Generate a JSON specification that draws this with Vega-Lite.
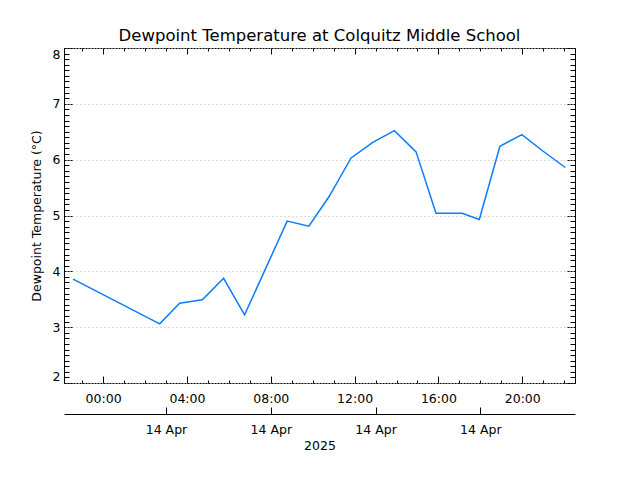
{
  "$schema": "https://vega.github.io/schema/vega-lite/v6.json",
  "width": 511,
  "height": 335,
  "autosize": {"type": "none"},
  "padding": {"left": 64, "top": 48, "right": 65, "bottom": 97},
  "background": "white",
  "title": {"text": "Dewpoint Temperature at Colquitz Middle School", "font": "DejaVu Sans", "fontSize": 16.5, "fontWeight": "normal", "color": "black", "anchor": "middle", "offset": 3},
  "config": {
    "view": {"stroke": null},
    "axis": {"labelFont": "DejaVu Sans", "titleFont": "DejaVu Sans", "labelFontSize": 12.5, "titleFontSize": 12.5, "labelColor": "black", "titleColor": "black", "domainColor": "black", "tickColor": "black", "titleFontWeight": "normal", "domainWidth": 1, "tickWidth": 1, "grid": false, "labelOverlap": false}
  },
  "data": {"values": [
    {"time": "2025-04-13T22:34:00Z", "dewpoint": 3.86},
    {"time": "2025-04-14T02:42:00Z", "dewpoint": 3.06},
    {"time": "2025-04-14T03:39:00Z", "dewpoint": 3.43},
    {"time": "2025-04-14T04:44:00Z", "dewpoint": 3.49},
    {"time": "2025-04-14T05:45:00Z", "dewpoint": 3.875},
    {"time": "2025-04-14T06:45:00Z", "dewpoint": 3.22},
    {"time": "2025-04-14T08:47:00Z", "dewpoint": 4.90},
    {"time": "2025-04-14T09:49:00Z", "dewpoint": 4.81},
    {"time": "2025-04-14T10:47:00Z", "dewpoint": 5.34},
    {"time": "2025-04-14T11:50:00Z", "dewpoint": 6.03},
    {"time": "2025-04-14T12:52:00Z", "dewpoint": 6.31},
    {"time": "2025-04-14T13:54:00Z", "dewpoint": 6.52},
    {"time": "2025-04-14T14:56:00Z", "dewpoint": 6.14},
    {"time": "2025-04-14T15:53:00Z", "dewpoint": 5.04},
    {"time": "2025-04-14T17:08:00Z", "dewpoint": 5.04},
    {"time": "2025-04-14T17:57:00Z", "dewpoint": 4.93},
    {"time": "2025-04-14T18:56:00Z", "dewpoint": 6.24},
    {"time": "2025-04-14T19:59:00Z", "dewpoint": 6.45},
    {"time": "2025-04-14T20:58:00Z", "dewpoint": 6.16},
    {"time": "2025-04-14T22:03:00Z", "dewpoint": 5.86}
  ]},
  "layer": [
    {
      "mark": {"type": "line", "color": "#0a7cff", "strokeWidth": 1.5},
      "encoding": {
        "x": {"field": "time", "type": "temporal",
          "scale": {"type": "utc", "domain": [{"year": 2025, "month": 4, "date": 13, "hours": 22, "minutes": 8, "utc": true}, {"year": 2025, "month": 4, "date": 14, "hours": 22, "minutes": 31, "utc": true}]},
          "axis": {"orient": "bottom", "title": null, "format": "%H:%M", "tickSize": -7, "labelPadding": 16, "domainDash": [2, 1],
            "values": [
              {"year": 2025, "month": 4, "date": 14, "hours": 0, "utc": true},
              {"year": 2025, "month": 4, "date": 14, "hours": 4, "utc": true},
              {"year": 2025, "month": 4, "date": 14, "hours": 8, "utc": true},
              {"year": 2025, "month": 4, "date": 14, "hours": 12, "utc": true},
              {"year": 2025, "month": 4, "date": 14, "hours": 16, "utc": true},
              {"year": 2025, "month": 4, "date": 14, "hours": 20, "utc": true}
            ]}},
        "y": {"field": "dewpoint", "type": "quantitative",
          "scale": {"domain": [2, 8], "nice": false, "zero": false},
          "axis": {"orient": "left", "title": "Dewpoint Temperature (°C)", "titlePadding": 9, "values": [2, 3, 4, 5, 6, 7, 8], "tickSize": -9, "tickDash": [2, 1], "labelPadding": 13, "labelFlush": true, "labelFlushOffset": 0, "grid": true, "gridDash": [1, 3], "gridColor": "#b4b4b4", "gridWidth": 1}}
      }
    },
    {
      "mark": {"type": "line", "opacity": 0},
      "encoding": {
        "x": {"field": "time", "type": "temporal",
          "axis": {"orient": "bottom", "title": null, "labels": false, "domain": false, "tickSize": -3,
            "values": [
              {"year": 2025, "month": 4, "date": 13, "hours": 23, "utc": true},
              {"year": 2025, "month": 4, "date": 14, "hours": 1, "utc": true},
              {"year": 2025, "month": 4, "date": 14, "hours": 2, "utc": true},
              {"year": 2025, "month": 4, "date": 14, "hours": 3, "utc": true},
              {"year": 2025, "month": 4, "date": 14, "hours": 5, "utc": true},
              {"year": 2025, "month": 4, "date": 14, "hours": 6, "utc": true},
              {"year": 2025, "month": 4, "date": 14, "hours": 7, "utc": true},
              {"year": 2025, "month": 4, "date": 14, "hours": 9, "utc": true},
              {"year": 2025, "month": 4, "date": 14, "hours": 10, "utc": true},
              {"year": 2025, "month": 4, "date": 14, "hours": 11, "utc": true},
              {"year": 2025, "month": 4, "date": 14, "hours": 13, "utc": true},
              {"year": 2025, "month": 4, "date": 14, "hours": 14, "utc": true},
              {"year": 2025, "month": 4, "date": 14, "hours": 15, "utc": true},
              {"year": 2025, "month": 4, "date": 14, "hours": 17, "utc": true},
              {"year": 2025, "month": 4, "date": 14, "hours": 18, "utc": true},
              {"year": 2025, "month": 4, "date": 14, "hours": 19, "utc": true},
              {"year": 2025, "month": 4, "date": 14, "hours": 21, "utc": true},
              {"year": 2025, "month": 4, "date": 14, "hours": 22, "utc": true}
            ]}},
        "y": {"field": "dewpoint", "type": "quantitative",
          "axis": {"orient": "left", "title": null, "labels": false, "domain": false, "tickSize": -5,
            "values": [2.1, 2.2, 2.3, 2.4, 2.5, 2.6, 2.7, 2.8, 2.9, 3.1, 3.2, 3.3, 3.4, 3.5, 3.6, 3.7, 3.8, 3.9, 4.1, 4.2, 4.3, 4.4, 4.5, 4.6, 4.7, 4.8, 4.9, 5.1, 5.2, 5.3, 5.4, 5.5, 5.6, 5.7, 5.8, 5.9, 6.1, 6.2, 6.3, 6.4, 6.5, 6.6, 6.7, 6.8, 6.9, 7.1, 7.2, 7.3, 7.4, 7.5, 7.6, 7.7, 7.8, 7.9]}}
      }
    },
    {
      "mark": {"type": "line", "opacity": 0},
      "encoding": {
        "x": {"field": "time", "type": "temporal",
          "axis": {"orient": "top", "title": null, "labels": false, "tickSize": -6, "domainDash": [2, 1],
            "values": [
              {"year": 2025, "month": 4, "date": 14, "hours": 0, "utc": true},
              {"year": 2025, "month": 4, "date": 14, "hours": 4, "utc": true},
              {"year": 2025, "month": 4, "date": 14, "hours": 8, "utc": true},
              {"year": 2025, "month": 4, "date": 14, "hours": 12, "utc": true},
              {"year": 2025, "month": 4, "date": 14, "hours": 16, "utc": true},
              {"year": 2025, "month": 4, "date": 14, "hours": 20, "utc": true}
            ]}},
        "y": {"field": "dewpoint", "type": "quantitative",
          "axis": {"orient": "right", "title": null, "labels": false, "values": [2, 3, 4, 5, 6, 7, 8], "tickSize": -9, "tickDash": [2, 1]}}
      }
    },
    {
      "mark": {"type": "line", "opacity": 0},
      "encoding": {
        "x": {"field": "time", "type": "temporal",
          "axis": {"orient": "top", "title": null, "labels": false, "domain": false, "tickSize": -3,
            "values": [
              {"year": 2025, "month": 4, "date": 13, "hours": 23, "utc": true},
              {"year": 2025, "month": 4, "date": 14, "hours": 1, "utc": true},
              {"year": 2025, "month": 4, "date": 14, "hours": 2, "utc": true},
              {"year": 2025, "month": 4, "date": 14, "hours": 3, "utc": true},
              {"year": 2025, "month": 4, "date": 14, "hours": 5, "utc": true},
              {"year": 2025, "month": 4, "date": 14, "hours": 6, "utc": true},
              {"year": 2025, "month": 4, "date": 14, "hours": 7, "utc": true},
              {"year": 2025, "month": 4, "date": 14, "hours": 9, "utc": true},
              {"year": 2025, "month": 4, "date": 14, "hours": 10, "utc": true},
              {"year": 2025, "month": 4, "date": 14, "hours": 11, "utc": true},
              {"year": 2025, "month": 4, "date": 14, "hours": 13, "utc": true},
              {"year": 2025, "month": 4, "date": 14, "hours": 14, "utc": true},
              {"year": 2025, "month": 4, "date": 14, "hours": 15, "utc": true},
              {"year": 2025, "month": 4, "date": 14, "hours": 17, "utc": true},
              {"year": 2025, "month": 4, "date": 14, "hours": 18, "utc": true},
              {"year": 2025, "month": 4, "date": 14, "hours": 19, "utc": true},
              {"year": 2025, "month": 4, "date": 14, "hours": 21, "utc": true},
              {"year": 2025, "month": 4, "date": 14, "hours": 22, "utc": true}
            ]}},
        "y": {"field": "dewpoint", "type": "quantitative",
          "axis": {"orient": "right", "title": null, "labels": false, "domain": false, "tickSize": -5,
            "values": [2.1, 2.2, 2.3, 2.4, 2.5, 2.6, 2.7, 2.8, 2.9, 3.1, 3.2, 3.3, 3.4, 3.5, 3.6, 3.7, 3.8, 3.9, 4.1, 4.2, 4.3, 4.4, 4.5, 4.6, 4.7, 4.8, 4.9, 5.1, 5.2, 5.3, 5.4, 5.5, 5.6, 5.7, 5.8, 5.9, 6.1, 6.2, 6.3, 6.4, 6.5, 6.6, 6.7, 6.8, 6.9, 7.1, 7.2, 7.3, 7.4, 7.5, 7.6, 7.7, 7.8, 7.9]}}
      }
    },
    {
      "mark": {"type": "line", "opacity": 0},
      "encoding": {
        "x": {"field": "time", "type": "temporal",
          "axis": {"orient": "bottom", "offset": 31, "title": "2025", "titlePadding": 4, "format": "%d %b", "tickSize": -7, "labelPadding": 16,
            "values": [
              {"year": 2025, "month": 4, "date": 14, "hours": 3, "utc": true},
              {"year": 2025, "month": 4, "date": 14, "hours": 8, "utc": true},
              {"year": 2025, "month": 4, "date": 14, "hours": 13, "utc": true},
              {"year": 2025, "month": 4, "date": 14, "hours": 18, "utc": true}
            ]}},
        "y": {"field": "dewpoint", "type": "quantitative", "axis": null}
      }
    }
  ],
  "resolve": {"axis": {"x": "independent", "y": "independent"}}
}
